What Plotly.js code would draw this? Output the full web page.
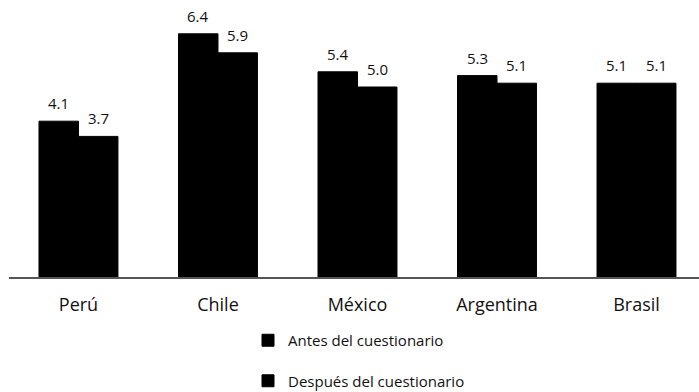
<!DOCTYPE html>
<html>
<head>
<meta charset="utf-8">
<script src="https://cdn.plot.ly/plotly-3.0.1.min.js"></script>
<style>
  html, body { margin: 0; padding: 0; background: #ffffff; }
  #chart { width: 699px; height: 392px; }
</style>
</head>
<body>
<div id="chart"></div>
<script>
// Países comparados
const paises = ['Perú', 'Chile', 'México', 'Argentina', 'Brasil'];
// Puntuación media antes y después del cuestionario
const antes = [4.1, 6.4, 5.4, 5.3, 5.1];
const despues = [3.7, 5.9, 5.0, 5.1, 5.1];
const nombreAntes = 'Antes del cuestionario';
const nombreDespues = 'Después del cuestionario';

const FONT = 'Open Sans, Noto Sans, sans-serif';
const BAR_OFFSET = 19.75; // half of one bar, in pixels

const traces = [
  {
    type: 'bar', x: paises, y: antes, name: nombreAntes,
    marker: { color: '#000000', line: { width: 1, color: '#000000' } },
    legendgroup: 'a', hoverinfo: 'skip'
  },
  {
    type: 'bar', x: paises, y: despues, name: nombreDespues,
    marker: { color: '#000000', line: { width: 1, color: '#000000' } },
    legendgroup: 'b', hoverinfo: 'skip'
  }
];

// Etiquetas de valor sobre cada barra
const etiquetas = [];
paises.forEach((p, i) => {
  etiquetas.push({ x: p, y: antes[i], text: antes[i].toFixed(1), xshift: -BAR_OFFSET });
  etiquetas.push({ x: p, y: despues[i], text: despues[i].toFixed(1), xshift: BAR_OFFSET });
});
const annotations = etiquetas.map(e => ({
  x: e.x, y: e.y, xref: 'x', yref: 'y', text: e.text,
  xshift: e.xshift, yshift: 6, yanchor: 'bottom', xanchor: 'center',
  showarrow: false, font: { family: FONT, size: 15, color: '#111111' }
}));

const layout = {
  width: 699, height: 392,
  margin: { l: 9, r: 0, t: 11, b: 115, autoexpand: false },
  paper_bgcolor: '#ffffff', plot_bgcolor: '#ffffff',
  barmode: 'group', bargap: 0.434, bargroupgap: 0,
  xaxis: {
    range: [-0.498, 4.448], showgrid: false, zeroline: false,
    showline: true, linecolor: '#555555', linewidth: 1.5,
    ticks: '', ticklabelstandoff: 11, tickangle: 0, automargin: false,
    tickfont: { family: FONT, size: 18, color: '#111111' }, fixedrange: true
  },
  yaxis: {
    range: [0, 7], visible: false, showgrid: false, zeroline: false,
    automargin: false, fixedrange: true
  },
  showlegend: true,
  legend: {
    orientation: 'v', xref: 'container', yref: 'container',
    x: 248 / 699, y: 1 - 324 / 392, xanchor: 'left', yanchor: 'top',
    traceorder: 'grouped', tracegroupgap: 18,
    font: { family: FONT, size: 15, color: '#111111' },
    bgcolor: 'rgba(0,0,0,0)'
  },
  annotations: annotations
};

Plotly.newPlot('chart', traces, layout, { displayModeBar: false, staticPlot: true });
</script>
</body>
</html>
